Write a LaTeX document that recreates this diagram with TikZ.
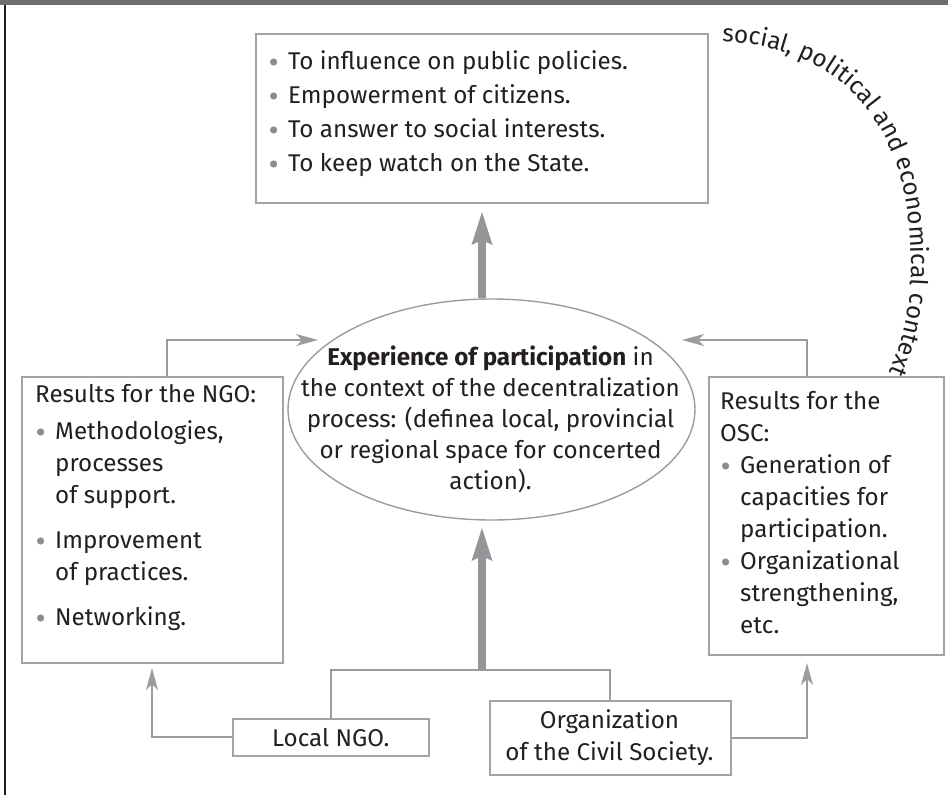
\documentclass[tikz,border=0pt]{standalone}
\usepackage{fontspec}
\setmainfont{Fira Sans}
\usetikzlibrary{arrows.meta,decorations.text,shapes.geometric}
\definecolor{linegray}{HTML}{9C9C9E}
\definecolor{boxgray}{HTML}{A3A3A5}
\definecolor{arrowgray}{HTML}{939598}
\definecolor{bargray}{HTML}{6D6E70}
\definecolor{txt}{HTML}{231F20}
\definecolor{bulletgray}{HTML}{8C8C8E}
\newcommand{\bodyfont}{\fontsize{24.2}{32}\selectfont}
\newcommand{\blt}{\makebox[18pt][l]{\tikz[baseline=0pt,x=1pt,y=1pt]{\useasboundingbox (0,0) rectangle (7,7);\fill[bulletgray] (3.4,7) circle[radius=3.6pt];}}}
\begin{document}
\begin{tikzpicture}[x=1pt,y=-1pt,
  box/.style={draw=boxgray, line width=1.6pt, inner sep=0pt, anchor=north west},
  conn/.style={draw=linegray, line width=1.8pt},
  thinarrow/.style={conn, -{Stealth[length=22pt,width=12pt,inset=6pt,line width=0pt]}},
  thickarrow/.style={draw=arrowgray, line width=7.5pt, -{Stealth[length=33pt,width=21pt,inset=5pt,line width=0pt]}},
  txtnode/.style={inner sep=0pt, text=txt, font=\bodyfont}]
\useasboundingbox (0,0) rectangle (948,795);
\fill[white] (0,0) rectangle (948,795);
% frame
\fill[bargray] (0,0) rectangle (948,5);
\draw[txt, line width=2pt] (5,5) -- (5,795);

% boxes
\node[box, minimum width=452pt, minimum height=169pt] (goals) at (255,33) {};
\node[box, minimum width=261pt, minimum height=286pt] (ngo) at (21,376) {};
\node[box, minimum width=235pt, minimum height=278pt] (osc) at (708,376) {};
\node[box, minimum width=196pt, minimum height=37pt, text=txt, font=\bodyfont] (lngo) at (232,718) {Local NGO.};
\node[box, minimum width=241pt, minimum height=74pt] (org) at (489,700) {};
\node[draw=linegray, line width=1.4pt, ellipse, minimum width=407pt, minimum height=221pt, inner sep=0pt] (exp) at (491.5,409.5) {};

% texts
\node[txtnode, anchor=base west] (goalstxt) at (270,69) {\vtop{\baselineskip=34pt
  \hbox{\blt To influence on public policies.}
  \hbox{\blt Empowerment of citizens.}
  \hbox{\blt To answer to social interests.}
  \hbox{\blt To keep watch on the State.}}};

\node[txtnode, anchor=base west] (ngotxt) at (35,402) {\vtop{\baselineskip=32pt
  \hbox{Results for the NGO:}\vskip5pt
  \hbox{\hspace*{2pt}\blt Methodologies,}
  \hbox{\hspace*{20pt}processes}
  \hbox{\hspace*{20pt}of support.}\vskip13pt
  \hbox{\hspace*{2pt}\blt Improvement}
  \hbox{\hspace*{20pt}of practices.}\vskip13pt
  \hbox{\hspace*{2pt}\blt Networking.}}};

\node[txtnode, anchor=base west] (osctxt) at (720,409) {\vtop{\baselineskip=32pt
  \hbox{Results for the}
  \hbox{OSC:}
  \hbox{\hspace*{2pt}\blt Generation of}
  \hbox{\hspace*{20pt}capacities for}
  \hbox{\hspace*{20pt}participation.}
  \hbox{\hspace*{2pt}\blt Organizational}
  \hbox{\hspace*{20pt}strengthening,}
  \hbox{\hspace*{20pt}etc.}}};

\node[txtnode, anchor=base] (exptxt) at (490.5,365) {\vtop{\baselineskip=31pt\halign{\hfil#\hfil\cr
  \textbf{Experience of participation} in\cr
  the context of the decentralization\cr
  process: (definea local, provincial\cr
  or regional space for concerted\cr
  action).\cr}}};

\node[txtnode, anchor=base] (orgtxt) at (609.5,728) {\vtop{\baselineskip=32pt\halign{\hfil#\hfil\cr
  Organization\cr
  of the Civil Society.\cr}}};

% curved context text
\path[decorate, decoration={text along path, text align=left,
  text={|\fontsize{24.5}{24.5}\selectfont\color{txt}|social, political and economical context}}]
  (722,42) .. controls (848,46) and (908,132) .. (911,250) .. controls (913,320) and (900,350) .. (875,405);

% coordinates
\coordinate (jn) at (482,670);
\coordinate (tipB) at (482,528);
\coordinate (tipT) at (482,212);
\coordinate (ngoout) at (167,340);
\coordinate (tipL) at (318,340);
\coordinate (oscout) at (807,340);
\coordinate (tipR) at (682,340);
\coordinate (tipNGO) at (152,668);
\coordinate (tipOSC) at (807,663);

% connectors
\draw[thickarrow] (exp.north -| jn) -- (tipT);
\draw[conn] (lngo.north) |- (jn) -| (org.north);
\draw[thickarrow] (jn) -- (tipB);
\draw[thinarrow] (ngo.north -| ngoout) |- (tipL);
\draw[thinarrow] (osc.north -| oscout) |- (tipR);
\draw[thinarrow] (lngo.west) -| (tipNGO);
\draw[thinarrow] (org.east) -| (tipOSC);
\end{tikzpicture}
\end{document}
